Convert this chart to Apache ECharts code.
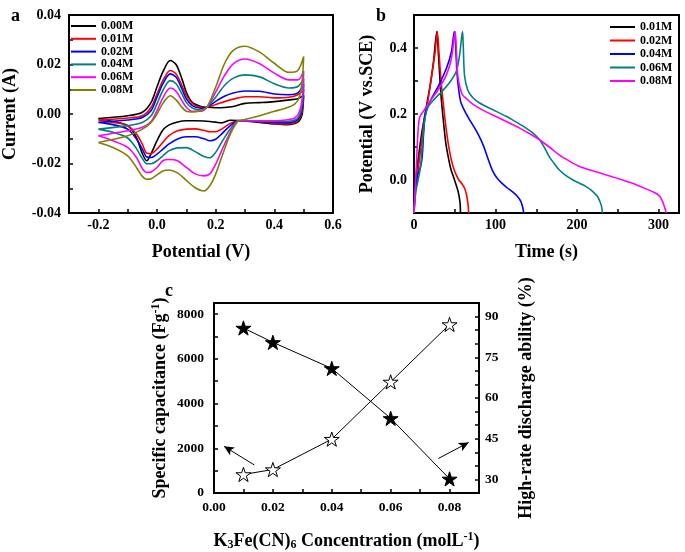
<!DOCTYPE html>
<html><head><meta charset="utf-8">
<script src="https://cdn.jsdelivr.net/npm/echarts@6/dist/echarts.min.js"></script>
<style>html,body{margin:0;padding:0;background:#fff}#c{width:685px;height:552px}</style>
</head><body><div id="c"></div><script>
// ---------- Panel a: cyclic voltammetry ----------
const cvLabels = ['0.00M','0.01M','0.02M','0.04M','0.06M','0.08M'];
const cvColors = ['#000000','#ff0000','#0000ff','#008080','#ff00ff','#808000'];
const cvPotentialForward = [-0.2,-0.1,-0.05,-0.02,0.0,0.02,0.045,0.065,0.085,0.1,0.12,0.15,0.17,0.2,0.23,0.26,0.3,0.35,0.4,0.45,0.48,0.5];
const cvPotentialReverse = [0.5,0.495,0.485,0.47,0.44,0.4,0.35,0.3,0.278,0.25,0.22,0.2,0.18,0.16,0.13,0.1,0.07,0.04,0.02,0.0,-0.02,-0.035,-0.05,-0.07,-0.1,-0.15,-0.2];
const cv000Forward = [-0.0018,-0.0007,0.0007,0.0047,0.011,0.017,0.0216,0.020,0.0142,0.0088,0.0047,0.003,0.0027,0.0025,0.0026,0.003,0.0043,0.0046,0.005,0.0057,0.0062,0.0075];
const cv000Reverse = [0.0075,0.0,-0.0027,-0.0038,-0.0043,-0.004,-0.0034,-0.0028,-0.0026,-0.0025,-0.0036,-0.0033,-0.003,-0.0028,-0.0027,-0.0027,-0.0032,-0.0045,-0.0065,-0.0108,-0.016,-0.0189,-0.016,-0.0095,-0.0047,-0.003,-0.0018];
const cv001Forward = [-0.0024,-0.0016,-0.0007,0.0027,0.0081,0.0135,0.0176,0.0162,0.0115,0.0074,0.0043,0.0027,0.0027,0.0038,0.005,0.006,0.007,0.007,0.0065,0.0068,0.0078,0.0100];
const cv001Reverse = [0.0100,0.0013,-0.002,-0.0035,-0.004,-0.0038,-0.0032,-0.0027,-0.0027,-0.0038,-0.0061,-0.0072,-0.0072,-0.0066,-0.006,-0.0061,-0.0068,-0.0088,-0.0115,-0.0142,-0.016,-0.0158,-0.0122,-0.0081,-0.0047,-0.0034,-0.0024];
const cv002Forward = [-0.0034,-0.0024,-0.0014,0.0014,0.0068,0.0122,0.0162,0.0149,0.0101,0.0061,0.0034,0.0023,0.0027,0.0051,0.0072,0.0085,0.0093,0.0092,0.0081,0.0078,0.0085,0.0122];
const cv002Reverse = [0.0122,0.0027,-0.0014,-0.003,-0.0035,-0.0034,-0.003,-0.0027,-0.0027,-0.0047,-0.0081,-0.0102,-0.0108,-0.01,-0.0092,-0.0092,-0.0101,-0.0122,-0.0142,-0.0162,-0.0176,-0.0174,-0.0142,-0.0101,-0.0061,-0.0043,-0.0034];
const cv004Forward = [-0.0061,-0.0047,-0.0034,-0.0007,0.0041,0.0095,0.0135,0.0122,0.0081,0.0047,0.0024,0.0016,0.0027,0.0068,0.0115,0.0145,0.0158,0.015,0.0122,0.0105,0.0111,0.0142];
const cv004Reverse = [0.0142,0.004,-0.0007,-0.0024,-0.003,-0.003,-0.0028,-0.0027,-0.0027,-0.0061,-0.0115,-0.0155,-0.0177,-0.0172,-0.0152,-0.0136,-0.0137,-0.0149,-0.0169,-0.0189,-0.0201,-0.0201,-0.018,-0.014,-0.0097,-0.0074,-0.0061];
const cv006Forward = [-0.0088,-0.0068,-0.0054,-0.003,0.0014,0.0065,0.0105,0.0092,0.0054,0.0027,0.0011,0.0011,0.0027,0.0088,0.0155,0.0203,0.0222,0.0203,0.0165,0.0138,0.0138,0.0174];
const cv006Reverse = [0.0174,0.0061,0.0007,-0.0016,-0.0024,-0.0027,-0.0027,-0.0027,-0.0027,-0.0074,-0.0149,-0.0203,-0.0242,-0.025,-0.0242,-0.0216,-0.0189,-0.0184,-0.0189,-0.0216,-0.0234,-0.0236,-0.022,-0.0176,-0.0135,-0.0108,-0.0088];
const cv008Forward = [-0.0115,-0.0088,-0.0061,-0.0034,0.0,0.0043,0.0074,0.0057,0.0027,0.0011,0.0008,0.0014,0.0027,0.0108,0.0203,0.0257,0.0274,0.025,0.0205,0.0168,0.0176,0.0232];
const cv008Reverse = [0.0232,0.0135,0.0068,0.0041,0.0024,0.0011,-0.0007,-0.0022,-0.0027,-0.0081,-0.0176,-0.0243,-0.029,-0.0311,-0.0298,-0.0268,-0.0238,-0.0226,-0.023,-0.0246,-0.0262,-0.0264,-0.0252,-0.0216,-0.0169,-0.0135,-0.0115];
const cvForward = [cv000Forward,cv001Forward,cv002Forward,cv004Forward,cv006Forward,cv008Forward];
const cvReverse = [cv000Reverse,cv001Reverse,cv002Reverse,cv004Reverse,cv006Reverse,cv008Reverse];

// ---------- Panel b: charge/discharge ----------
const gcdLabels = ['0.01M','0.02M','0.04M','0.06M','0.08M'];
const gcdColors = ['#000000','#ff0000','#0000ff','#008080','#ff00ff'];
const gcd001Time = [0,1,3,6,10,15,20,24,28,30,33,36,39,42,45,49,53,55,56.5,57];
const gcd001Potential = [-0.1,-0.04,0.02,0.08,0.15,0.22,0.29,0.36,0.45,0.38,0.26,0.18,0.112,0.07,0.035,0.005,-0.025,-0.045,-0.07,-0.1];
const gcd002Time = [0,2,5,8,12,17,22,26,28.5,30.5,33,36,39,42,45,48,51,55,59,62,64,65.5,66.5,67];
const gcd002Potential = [-0.1,-0.03,0.03,0.09,0.17,0.24,0.32,0.39,0.45,0.39,0.306,0.23,0.163,0.11,0.07,0.04,0.02,0.0,-0.012,-0.025,-0.04,-0.06,-0.08,-0.1];
const gcd004Time = [0,1,4,8,10,12,14,20,30,40,46,49.5,51,53,57,62,68,75,80,85,90,96,102,108,115,121,127,131,133.5,134.5];
const gcd004Potential = [-0.1,-0.04,0.01,0.04,0.07,0.15,0.2,0.24,0.285,0.34,0.39,0.45,0.41,0.316,0.24,0.21,0.183,0.155,0.132,0.105,0.07,0.03,0.005,-0.01,-0.025,-0.036,-0.05,-0.065,-0.085,-0.1];
const gcd006Time = [0,2,5,8,10,13,17,25,35,45,52,56,59.5,60.5,62,66,72,80,95,113,125,137,147,154,160,166,172,178,186,195,203,211,218,225,228,230,231];
const gcd006Potential = [-0.1,-0.04,0,0.04,0.1,0.18,0.22,0.245,0.27,0.3,0.33,0.38,0.45,0.40,0.316,0.272,0.25,0.234,0.215,0.193,0.176,0.158,0.14,0.122,0.098,0.07,0.05,0.031,0.014,0.0,-0.01,-0.02,-0.032,-0.05,-0.065,-0.08,-0.1];
const gcd008Time = [0,1,3,5,7,12,20,30,40,46,50.5,52,54,59,65,72,85,100,115,129,142,154,166,178,190,203,220,236,252,268,280,293,300,304,307,309.5];
const gcd008Potential = [-0.1,-0.05,0.05,0.15,0.19,0.21,0.24,0.275,0.32,0.37,0.45,0.39,0.31,0.26,0.245,0.23,0.211,0.193,0.175,0.158,0.14,0.122,0.1,0.076,0.058,0.041,0.027,0.015,0.003,-0.01,-0.022,-0.036,-0.046,-0.06,-0.08,-0.1];
const gcdTime = [gcd001Time,gcd002Time,gcd004Time,gcd006Time,gcd008Time];
const gcdPotential = [gcd001Potential,gcd002Potential,gcd004Potential,gcd006Potential,gcd008Potential];

// ---------- Panel c ----------
const concentration = [0.01,0.02,0.04,0.06,0.08];
const specificCapacitance = [830,1050,2410,4970,7540];
const highRateDischarge = [85.8,80.5,70.9,52.5,30.2];
const arrowLeft = [[0.0137,1254],[0.0034,2088]];
const arrowRight = [[0.0762,1543],[0.0865,2261]];

const FONT = 'Liberation Serif';
const starPath = 'path://M50,0L61.23,34.55L97.55,34.55L68.17,55.9L79.39,90.45L50,69.1L20.61,90.45L31.83,55.9L2.45,34.55L38.77,34.55Z';

function lbl(size, margin, formatter) {
  return {color: '#000', fontFamily: FONT, fontWeight: 'bold', fontSize: size, margin, formatter};
}
function axisBase(extra) {
  return Object.assign({
    type: 'value',
    axisLine: {show: true, onZero: false, lineStyle: {color: '#000', width: 2}},
    axisTick: {show: true, inside: true, length: 4, lineStyle: {color: '#000', width: 1.5}},
    splitLine: {show: false},
    nameLocation: 'middle',
    nameTextStyle: {color: '#000', fontFamily: FONT, fontWeight: 'bold', fontSize: 18}
  }, extra);
}
function fmtEven(dec, mult) {
  return v => { const k = Math.round(v * mult); return (k % 2 === 0) ? (k / mult).toFixed(dec) : ''; };
}

const series = [];
cvLabels.forEach((lab, i) => {
  const data = cvPotentialForward.map((v, j) => [v, cvForward[i][j]])
    .concat(cvPotentialReverse.map((v, j) => [v, cvReverse[i][j]]));
  series.push({type: 'line', name: 'a' + lab, xAxisIndex: 0, yAxisIndex: 0, data,
    showSymbol: false, smooth: 0.3, color: cvColors[i], lineStyle: {width: 1.6, color: cvColors[i]}});
});
gcdLabels.forEach((lab, i) => {
  const data = gcdTime[i].map((t, j) => [t, gcdPotential[i][j]]);
  series.push({type: 'line', name: 'b' + lab, xAxisIndex: 1, yAxisIndex: 1, data,
    showSymbol: false, smooth: 0.3, color: gcdColors[i], lineStyle: {width: 1.6, color: gcdColors[i]}});
});
series.push({type: 'line', name: 'cap', xAxisIndex: 2, yAxisIndex: 2,
  data: concentration.map((c, j) => [c, specificCapacitance[j]]),
  symbol: starPath, symbolSize: 15, symbolKeepAspect: true,
  lineStyle: {color: '#000', width: 1}, itemStyle: {color: '#fff', borderColor: '#000', borderWidth: 1},
  z: 5,
  markLine: {silent: true, symbol: ['none', 'arrow'], symbolSize: [7, 10],
    lineStyle: {color: '#000', width: 1, type: 'solid'}, label: {show: false},
    data: [[{coord: arrowLeft[0]}, {coord: arrowLeft[1]}], [{coord: arrowRight[0]}, {coord: arrowRight[1]}]]}
});
series.push({type: 'line', name: 'hrd', xAxisIndex: 2, yAxisIndex: 3,
  data: concentration.map((c, j) => [c, highRateDischarge[j]]),
  symbol: starPath, symbolSize: 15, symbolKeepAspect: true,
  lineStyle: {color: '#000', width: 1}, itemStyle: {color: '#000', borderColor: '#000', borderWidth: 1}, z: 5});

const legendText = {color: '#000', fontFamily: FONT, fontWeight: 'bold', fontSize: 12, lineHeight: 12};

const option = {
  animation: false,
  backgroundColor: '#fff',
  title: [
    {text: 'a', left: 6, top: 2, textStyle: {fontFamily: FONT, fontWeight: 'bold', fontSize: 18, color: '#000'}},
    {text: 'b', left: 371, top: 2, textStyle: {fontFamily: FONT, fontWeight: 'bold', fontSize: 18, color: '#000'}},
    {text: 'c', left: 160, top: 277, textStyle: {fontFamily: FONT, fontWeight: 'bold', fontSize: 18, color: '#000'}}
  ],
  grid: [
    {left: 66, top: 15, width: 267, height: 198, show: true, borderColor: '#000', borderWidth: 2},
    {left: 414, top: 15, width: 265, height: 198, show: true, borderColor: '#000', borderWidth: 2},
    {left: 214, top: 303, width: 265, height: 197, show: true, borderColor: '#000', borderWidth: 2}
  ],
  legend: [
    {orient: 'vertical', left: 71, top: 20, itemWidth: 25, itemHeight: 2, itemGap: 0.8, icon: 'rect',
     data: cvLabels.map(l => 'a' + l), formatter: n => n.slice(1), textStyle: legendText, padding: 0},
    {orient: 'vertical', left: 610, top: 21, itemWidth: 25, itemHeight: 2, itemGap: 1.5, icon: 'rect',
     data: gcdLabels.map(l => 'b' + l), formatter: n => n.slice(1), textStyle: legendText, padding: 0}
  ],
  xAxis: [
    axisBase({gridIndex: 0, min: -0.3, max: 0.6, interval: 0.1, name: 'Potential (V)', nameGap: 30,
      axisLabel: lbl(14, 5, fmtEven(1, 10))}),
    axisBase({gridIndex: 1, min: 0, max: 325, interval: 50, name: 'Time (s)', nameGap: 30,
      axisLabel: lbl(14, 5, v => (Math.round(v) % 100 === 0 ? String(Math.round(v)) : ''))}),
    axisBase({gridIndex: 2, min: 0, max: 0.09, interval: 0.01,
      name: 'K{sub|3}Fe(CN){sub|6} Concentration (molL{sup|-1})', nameGap: 38,
      nameTextStyle: {color: '#000', fontFamily: FONT, fontWeight: 'bold', fontSize: 18,
        rich: {sub: {fontFamily: FONT, fontWeight: 'bold', fontSize: 12, color: '#000', padding: [8, 0, 0, 0]},
               sup: {fontFamily: FONT, fontWeight: 'bold', fontSize: 12, color: '#000', padding: [0, 0, 8, 0]}}},
      axisLabel: lbl(13.5, 8, v => { const k = Math.round(v * 100); return (k % 2 === 0 && k <= 8) ? (k / 100).toFixed(2) : ''; })})
  ],
  yAxis: [
    axisBase({gridIndex: 0, min: -0.04, max: 0.04, interval: 0.01, name: 'Current (A)', nameGap: 50,
      axisLabel: lbl(14, 8, fmtEven(2, 100))}),
    axisBase({gridIndex: 1, min: -0.1, max: 0.5, interval: 0.1, name: 'Potential (V vs.SCE)', nameGap: 38,
      axisLabel: lbl(14, 7, fmtEven(1, 10))}),
    axisBase({gridIndex: 2, min: 0, max: 8500, interval: 1000, name: 'Specific capacitance (Fg{sup|-1})', nameGap: 44,
      nameTextStyle: {color: '#000', fontFamily: FONT, fontWeight: 'bold', fontSize: 18,
        rich: {sup: {fontFamily: FONT, fontWeight: 'bold', fontSize: 12, color: '#000', padding: [0, 0, 8, 0]}}},
      axisLabel: lbl(13.5, 10, v => (v % 2000 === 0 ? String(v) : ''))}),
    axisBase({gridIndex: 2, position: 'right', min: 25, max: 95, interval: 5, name: 'High-rate discharge ability (%)',
      nameGap: 38, nameRotate: 90,
      axisLabel: lbl(13.5, 6, v => (v % 15 === 0 ? String(v) : ''))})
  ],
  series
};
const chart = echarts.init(document.getElementById('c'), null, {renderer: 'canvas'});
chart.setOption(option);
</script></body></html>
